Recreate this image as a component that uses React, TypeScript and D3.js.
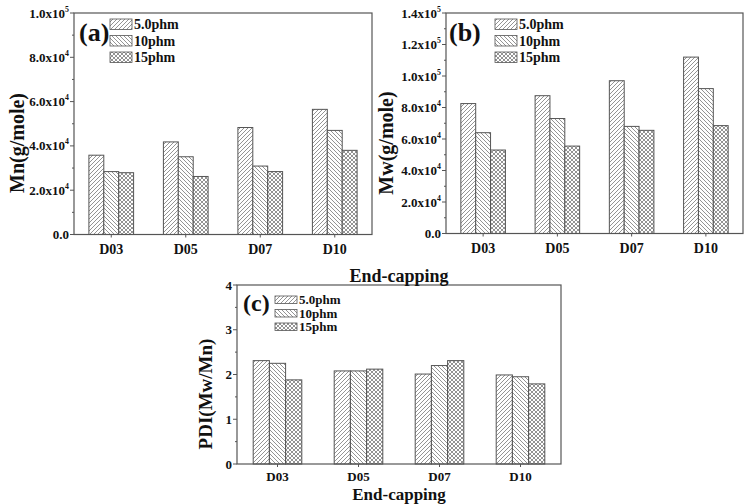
import * as d3 from "d3";
import { useEffect, useRef } from "react";

const WIDTH = 749;
const HEIGHT = 504;

const categories = ["D03", "D05", "D07", "D10"];
const seriesNames = ["5.0phm", "10phm", "15phm"];

// Mn, g/mole
const mn50 = [35800, 41800, 48300, 56500];
const mn10 = [28400, 35100, 30900, 47000];
const mn15 = [27900, 26200, 28400, 38000];

// Mw, g/mole
const mw50 = [82500, 87500, 97000, 112000];
const mw10 = [64000, 73000, 68000, 92000];
const mw15 = [53000, 55500, 65500, 68500];

// PDI
const pdi50 = [2.31, 2.08, 2.01, 1.99];
const pdi10 = [2.25, 2.08, 2.2, 1.95];
const pdi15 = [1.88, 2.12, 2.31, 1.79];

const sciTicks = [0, 2e4, 4e4, 6e4, 8e4, 1e5, 1.2e5, 1.4e5];
const pdiTicks = [0, 1, 2, 3, 4];

const FONT = "'Liberation Serif', 'DejaVu Serif', serif";
const patternIds = ["pat-fwd", "pat-back", "pat-cross"];

type Panel = {
    tag: string;
    yLabel: string;
    series: number[][];
    yMax: number;
    ticks: number[];
    sci: boolean;
    box: { x0: number; x1: number; y0: number; y1: number };
    labelPos: [number, number];
    tagPos: [number, number];
    tagSize: number;
    legendPos: [number, number];
    legendStep: number;
    legendFont: number;
    tickFont: number;
    catFont: number;
    catDy: number;
    titleSize: number;
};

const panels: Panel[] = [
    {
        tag: "(a)",
        yLabel: "Mn(g/mole)",
        series: [mn50, mn10, mn15],
        yMax: 1e5,
        ticks: sciTicks.filter((t) => t <= 1e5),
        sci: true,
        box: { x0: 74, x1: 372, y0: 13, y1: 234.5 },
        labelPos: [17, 143],
        tagPos: [79, 41],
        tagSize: 26,
        legendPos: [110, 19],
        legendStep: 16.5,
        legendFont: 14,
        tickFont: 13,
        catFont: 14,
        catDy: 19,
        titleSize: 20,
    },
    {
        tag: "(b)",
        yLabel: "Mw(g/mole)",
        series: [mw50, mw10, mw15],
        yMax: 1.4e5,
        ticks: sciTicks,
        sci: true,
        box: { x0: 446, x1: 743, y0: 13, y1: 233.5 },
        labelPos: [386, 143],
        tagPos: [449, 41],
        tagSize: 26,
        legendPos: [495, 19],
        legendStep: 16.5,
        legendFont: 14,
        tickFont: 13,
        catFont: 14,
        catDy: 19,
        titleSize: 20,
    },
    {
        tag: "(c)",
        yLabel: "PDI(Mw/Mn)",
        series: [pdi50, pdi10, pdi15],
        yMax: 4,
        ticks: pdiTicks,
        sci: false,
        box: { x0: 237, x1: 561, y0: 285, y1: 464 },
        labelPos: [205, 394],
        tagPos: [243, 311],
        tagSize: 24,
        legendPos: [275, 296],
        legendStep: 13.5,
        legendFont: 13,
        tickFont: 13,
        catFont: 13,
        catDy: 17,
        titleSize: 19,
    },
];

function drawPanel(svg: d3.Selection<SVGSVGElement, unknown, null, undefined>, p: Panel) {
    const { x0, x1, y0, y1 } = p.box;
    const g = svg.append("g");

    const x = d3.scaleBand<string>().domain(categories).range([x0, x1]);
    const groupW = x.bandwidth() * 0.6;
    const xs = d3.scaleBand<number>().domain([0, 1, 2]).range([-groupW / 2, groupW / 2]);
    const y = d3.scaleLinear().domain([0, p.yMax]).range([y1, y0]);

    // bars
    p.series.forEach((vals, si) => {
        g.selectAll(`rect.s${si}`)
            .data(vals)
            .enter()
            .append("rect")
            .attr("x", (_, i) => (x(categories[i]) ?? 0) + x.bandwidth() / 2 + (xs(si) ?? 0))
            .attr("y", (d) => y(d))
            .attr("width", xs.bandwidth())
            .attr("height", (d) => y(0) - y(d))
            .attr("fill", `url(#${patternIds[si]})`)
            .attr("stroke", "#555")
            .attr("stroke-width", 1);
    });

    // frame
    g.append("rect")
        .attr("x", x0)
        .attr("y", y0)
        .attr("width", x1 - x0)
        .attr("height", y1 - y0)
        .attr("fill", "none")
        .attr("stroke", "#555")
        .attr("stroke-width", 1.2);

    // y ticks, major + minor
    p.ticks.forEach((t, i) => {
        g.append("line").attr("x1", x0 - 4).attr("x2", x0).attr("y1", y(t)).attr("y2", y(t)).attr("stroke", "#555");
        if (i < p.ticks.length - 1) {
            const m = (t + p.ticks[i + 1]) / 2;
            g.append("line").attr("x1", x0 - 2).attr("x2", x0).attr("y1", y(m)).attr("y2", y(m)).attr("stroke", "#555");
        }
        const txt = g
            .append("text")
            .attr("x", x0 - 5)
            .attr("y", y(t) + 4.5)
            .attr("text-anchor", "end")
            .attr("font-family", FONT)
            .attr("font-weight", "bold")
            .attr("font-size", p.tickFont)
            .attr("fill", "#111");
        if (p.sci && t !== 0) {
            const exp = Math.floor(Math.log10(t) + 1e-9);
            const mant = t / Math.pow(10, exp);
            txt.append("tspan").text(`${mant.toFixed(1)}x10`);
            txt.append("tspan").attr("dy", -6).attr("font-size", p.tickFont * 0.6).text(String(exp));
        } else {
            txt.text(p.sci ? "0.0" : String(t));
        }
    });

    // x ticks
    categories.forEach((c) => {
        const cx = (x(c) ?? 0) + x.bandwidth() / 2;
        g.append("line").attr("x1", cx).attr("x2", cx).attr("y1", y1).attr("y2", y1 + 3).attr("stroke", "#555");
        g.append("text")
            .attr("x", cx)
            .attr("y", y1 + p.catDy)
            .attr("text-anchor", "middle")
            .attr("font-family", FONT)
            .attr("font-weight", "bold")
            .attr("font-size", p.catFont)
            .attr("fill", "#111")
            .text(c);
    });

    // y title
    g.append("text")
        .attr("transform", `translate(${p.labelPos[0]},${p.labelPos[1]}) rotate(-90)`)
        .attr("text-anchor", "middle")
        .attr("dominant-baseline", "central")
        .attr("font-family", FONT)
        .attr("font-weight", "bold")
        .attr("font-size", p.titleSize)
        .attr("fill", "#111")
        .text(p.yLabel);

    // panel tag
    g.append("text")
        .attr("x", p.tagPos[0])
        .attr("y", p.tagPos[1])
        .attr("font-family", FONT)
        .attr("font-weight", "bold")
        .attr("font-size", p.tagSize)
        .attr("fill", "#111")
        .text(p.tag);

    // legend
    const [lx, ly] = p.legendPos;
    seriesNames.forEach((name, si) => {
        const yy = ly + si * p.legendStep;
        const h = p.legendStep - 6;
        g.append("rect")
            .attr("x", lx)
            .attr("y", yy)
            .attr("width", 22)
            .attr("height", h)
            .attr("fill", `url(#${patternIds[si]})`)
            .attr("stroke", "#555")
            .attr("stroke-width", 0.8);
        g.append("text")
            .attr("x", lx + 24)
            .attr("y", yy + h / 2 + p.legendFont * 0.35)
            .attr("font-family", FONT)
            .attr("font-weight", "bold")
            .attr("font-size", p.legendFont)
            .attr("fill", "#111")
            .text(name);
    });
}

export default function App() {
    const svgRef = useRef<SVGSVGElement | null>(null);

    useEffect(() => {
        if (!svgRef.current) return;
        const svg = d3.select(svgRef.current);
        svg.selectAll("*").remove();

        const defs = svg.append("defs");
        const mkPattern = (id: string, paths: string[]) => {
            const pat = defs
                .append("pattern")
                .attr("id", id)
                .attr("patternUnits", "userSpaceOnUse")
                .attr("width", 4)
                .attr("height", 4);
            pat.append("rect").attr("width", 4).attr("height", 4).attr("fill", "#fff");
            paths.forEach((d) => pat.append("path").attr("d", d).attr("stroke", "#666").attr("stroke-width", 0.7).attr("fill", "none"));
        };
        mkPattern(patternIds[0], ["M-1,1 L1,-1 M0,4 L4,0 M3,5 L5,3"]);
        mkPattern(patternIds[1], ["M-1,3 L1,5 M0,0 L4,4 M3,-1 L5,1"]);
        mkPattern(patternIds[2], ["M-1,1 L1,-1 M0,4 L4,0 M3,5 L5,3", "M-1,3 L1,5 M0,0 L4,4 M3,-1 L5,1"]);

        panels.forEach((p) => drawPanel(svg, p));

        // shared x titles
        const titles: [number, number, number][] = [
            [399, 282, 18],
            [399, 500, 17],
        ];
        titles.forEach(([tx, ty, fs]) =>
            svg
                .append("text")
                .attr("x", tx)
                .attr("y", ty)
                .attr("text-anchor", "middle")
                .attr("font-family", FONT)
                .attr("font-weight", "bold")
                .attr("font-size", fs)
                .attr("fill", "#111")
                .text("End-capping")
        );

        return () => {
            svg.selectAll("*").remove();
        };
    }, []);

    return (
        <svg
            ref={svgRef}
            width={WIDTH}
            height={HEIGHT}
            style={{ position: "absolute", left: 0, top: 0, background: "#fff" }}
        />
    );
}
